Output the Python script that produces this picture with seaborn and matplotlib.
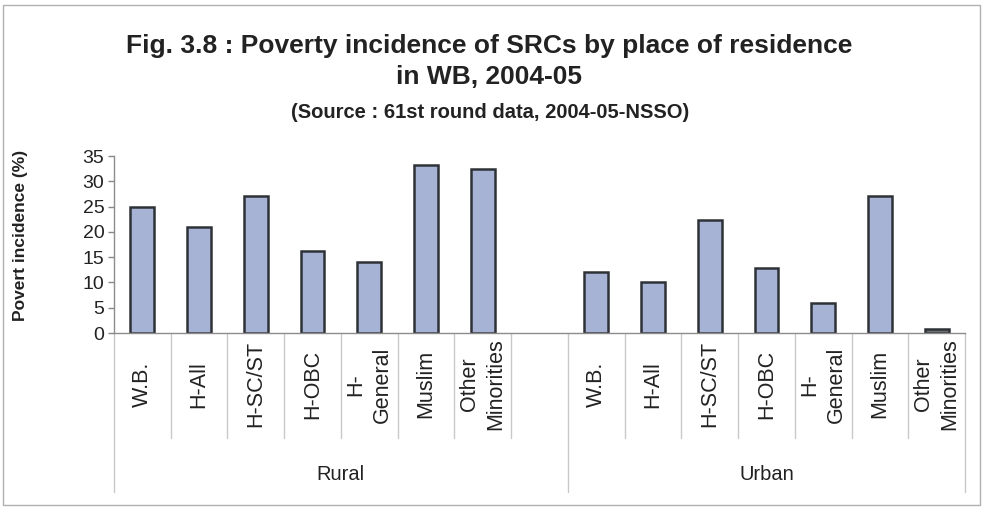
import matplotlib
matplotlib.use("Agg")
import matplotlib.pyplot as plt
from matplotlib.patches import Rectangle
import seaborn as sns
import pandas as pd

# Poverty incidence (%) by social-religious community, 2004-05
groups = ["Rural", "Urban"]
communities = ["W.B.", "H-All", "H-SC/ST", "H-OBC", "H-\nGeneral", "Muslim", "Other\nMinorities"]
rural_values = [25.0, 21.0, 27.0, 16.3, 14.1, 33.2, 32.4]
urban_values = [12.1, 10.0, 22.3, 12.9, 6.0, 27.1, 0.8]
y_ticks = [0, 5, 10, 15, 20, 25, 30, 35]

sns.set_theme(style="white")
plt.rcParams["font.family"] = ["Liberation Sans", "DejaVu Sans"]

# one slot per bar, plus an empty slot between the two groups
slots = [f"Rural|{c}" for c in communities] + ["gap"] + [f"Urban|{c}" for c in communities]
df = pd.DataFrame({
    "slot": [f"Rural|{c}" for c in communities] + [f"Urban|{c}" for c in communities],
    "value": rural_values + urban_values,
})

bar_fill = "#9fb0dc"
palette = {s: bar_fill for s in df["slot"]}
palette["Urban|Other\nMinorities"] = "#6c7075"

fig = plt.figure(figsize=(9.85, 5.16), dpi=100)
ax = fig.add_axes([114 / 985, 1 - 333 / 516, (965 - 114) / 985, (333 - 156) / 516])

sns.barplot(data=df, x="slot", y="value", order=slots, hue="slot", palette=palette,
            legend=False, width=0.42, edgecolor="#2e3236", linewidth=1.8, ax=ax)

ax.set_xlim(-0.5, len(slots) - 0.5)
ax.set_ylim(0, 35)
ax.set_yticks(y_ticks)
ax.set_yticklabels([str(v) for v in y_ticks], fontsize=14, color="#222222")
ax.tick_params(axis="y", which="both", left=True, length=4, width=1, color="#888888", pad=3)

tick_pos = [i for i, s in enumerate(slots) if s != "gap"]
tick_lab = communities + communities
ax.set_xticks(tick_pos)
ax.set_xticklabels(tick_lab, rotation=90, va="center", ha="center",
                   multialignment="center", fontsize=15.5, linespacing=1.35,
                   color="#222222")
ax.tick_params(axis="x", length=0, pad=37)
ax.set_xlabel("")
ax.set_ylabel("Povert incidence (%)", fontsize=12.5, fontweight="bold", color="#222222")
ax.yaxis.set_label_coords(-0.101, 0.55)

for side in ["top", "right"]:
    ax.spines[side].set_visible(False)
for side in ["left", "bottom"]:
    ax.spines[side].set_color("#8c8c8c")
    ax.spines[side].set_linewidth(1)

# category separators and group separators under the axis
trans = ax.get_xaxis_transform()
short_drop = (438 - 333) / (333 - 156)
long_drop = (492 - 333) / (333 - 156)
n_per_group = len(communities) + 1
for i in range(len(slots) + 1):
    xb = i - 0.5
    is_group_edge = (i % n_per_group == 0) or (i == len(slots))
    depth = long_drop if is_group_edge else short_drop
    ax.plot([xb, xb], [0, -depth], transform=trans, color="#c8c8c8", lw=1,
            clip_on=False, zorder=0)

# group names
for g_idx, name in enumerate(groups):
    start = g_idx * n_per_group - 0.5
    end = min(start + n_per_group, len(slots) - 0.5)
    ax.text((start + end) / 2, -(474 - 333) / (333 - 156), name, transform=trans,
            ha="center", va="center", fontsize=14.5, color="#222222")

# titles
fig.text(489 / 985, 1 - 46 / 516,
         "Fig. 3.8 : Poverty incidence of SRCs by place of residence",
         ha="center", va="center", fontsize=19, fontweight="bold", color="#222222")
fig.text(489 / 985, 1 - 77 / 516, "in WB, 2004-05",
         ha="center", va="center", fontsize=19, fontweight="bold", color="#222222")
fig.text(490 / 985, 1 - 113 / 516, "(Source : 61st round data, 2004-05-NSSO)",
         ha="center", va="center", fontsize=14.5, fontweight="bold", color="#222222")

# chart frame
fig.add_artist(Rectangle((3 / 985, 1 - 505 / 516), 977 / 985, 500 / 516,
                         transform=fig.transFigure, fill=False,
                         edgecolor="#b0b0b0", lw=1))

fig.savefig("out.png", dpi=100)
